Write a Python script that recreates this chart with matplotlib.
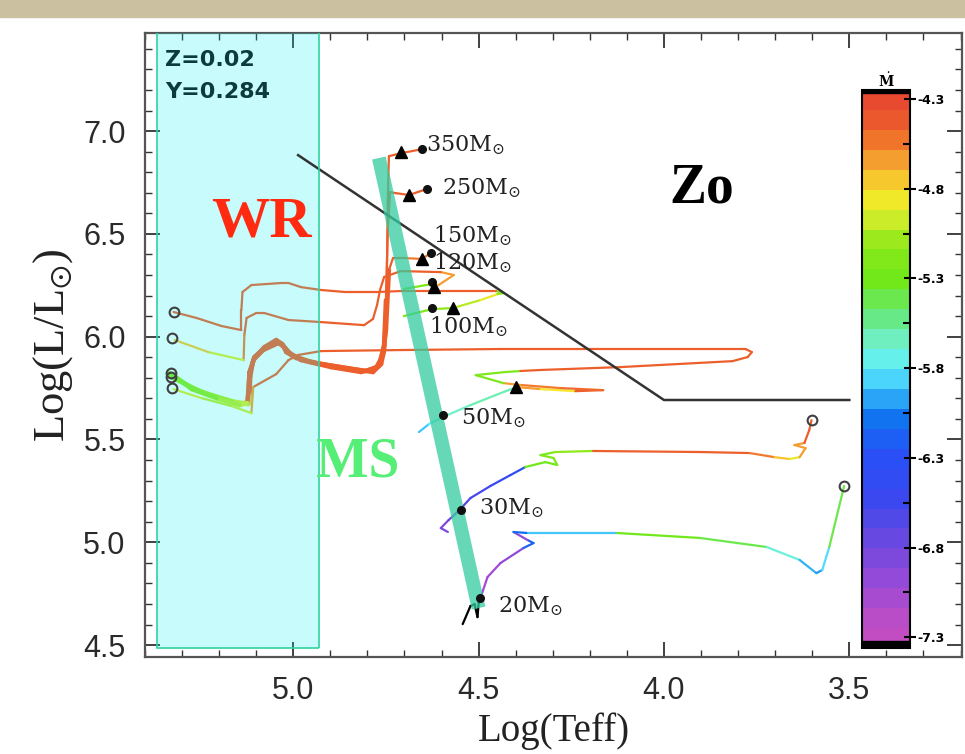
import numpy as np
import matplotlib.pyplot as plt
from matplotlib.collections import LineCollection
from matplotlib.colors import LinearSegmentedColormap, Normalize
from matplotlib.patches import Rectangle
from matplotlib.cm import ScalarMappable

plt.rcParams['mathtext.fontset'] = 'dejavuserif'
plt.rcParams['mathtext.rm'] = 'Liberation Serif'
plt.rcParams['mathtext.fallback'] = 'stix'

# evolutionary tracks: log Teff, log L, log Mdot
t350 = [4.653, 4.707, 4.742, 4.745, 4.747, 4.750, 4.755, 4.763, 4.785, 4.858, 4.925, 4.992, 5.019,
        5.030, 5.046, 5.075, 5.105, 5.118, 5.121, 5.124, 5.145, 5.207, 5.274, 5.320, 5.333]
l350 = [6.912, 6.893, 6.878, 6.664, 6.373, 6.081, 5.935, 5.867, 5.828, 5.847, 5.867, 5.896, 5.925,
        5.964, 5.979, 5.949, 5.901, 5.828, 5.740, 5.682, 5.672, 5.706, 5.750, 5.804, 5.818]
m350 = [-4.4, -4.4, -4.4, -4.4, -4.4, -4.4, -4.4, -4.4, -4.4, -4.4, -4.4, -4.4, -4.4,
        -4.4, -4.4, -4.4, -4.4, -4.4, -4.6, -4.9, -5.0, -5.1, -5.15, -5.2, -5.2]

t250 = [4.640, 4.688, 4.723, 4.739, 4.745, 4.750, 4.755, 4.769, 4.804, 4.871, 4.952, 5.005,
        5.024, 5.040, 5.081, 5.108, 5.116, 5.118, 5.121, 5.167, 5.247, 5.307, 5.330]
l250 = [6.718, 6.689, 6.698, 6.703, 6.519, 6.178, 5.959, 5.857, 5.833, 5.852, 5.876, 5.911,
        5.949, 5.969, 5.935, 5.886, 5.808, 5.716, 5.672, 5.687, 5.731, 5.784, 5.804]
m250 = [-4.4, -4.4, -4.4, -4.4, -4.4, -4.4, -4.4, -4.4, -4.4, -4.4, -4.4, -4.4,
        -4.4, -4.4, -4.4, -4.4, -4.4, -4.7, -4.95, -5.05, -5.1, -5.15, -5.2]

t150 = [4.629, 4.653, 4.696, 4.731, 4.742, 4.750, 4.758, 4.777, 4.817, 4.898, 4.979, 5.013,
        5.030, 5.046, 5.078, 5.105, 5.118, 5.121, 5.124, 5.145, 5.207, 5.274, 5.320, 5.333]
l150 = [6.407, 6.378, 6.382, 6.382, 6.324, 6.032, 5.911, 5.847, 5.828, 5.852, 5.886, 5.925,
        5.964, 5.984, 5.949, 5.896, 5.823, 5.731, 5.677, 5.667, 5.701, 5.745, 5.808, 5.823]
m150 = [-4.5, -4.5, -4.4, -4.4, -4.4, -4.4, -4.4, -4.4, -4.4, -4.4, -4.4, -4.4,
        -4.4, -4.4, -4.4, -4.4, -4.4, -4.4, -4.9, -5.0, -5.1, -5.15, -5.2, -5.2]

t120 = [4.702, 4.626, 4.608, 4.567, 4.602, 4.710, 4.755, 4.766, 4.774, 4.785, 4.809, 4.925,
        5.013, 5.078, 5.100, 5.126, 5.132, 5.134, 5.229, 5.320]
l120 = [6.232, 6.256, 6.251, 6.300, 6.314, 6.319, 6.290, 6.227, 6.154, 6.086, 6.056, 6.071,
        6.081, 6.115, 6.115, 6.091, 6.008, 5.886, 5.925, 5.984]
m120 = [-5.2, -4.9, -4.6, -4.6, -4.4, -4.4, -4.4, -4.4, -4.4, -4.4, -4.4, -4.4,
        -4.4, -4.4, -4.4, -4.4, -4.5, -4.9, -4.7, -4.5]

t100 = [4.702, 4.626, 4.570, 4.495, 4.449, 4.433, 4.454, 4.575, 4.710, 4.777, 4.858, 4.925,
        4.979, 5.013, 5.032, 5.113, 5.137, 5.140, 5.140, 5.194, 5.261, 5.323]
l100 = [6.100, 6.134, 6.139, 6.178, 6.207, 6.212, 6.222, 6.222, 6.222, 6.217, 6.217, 6.227,
        6.241, 6.261, 6.261, 6.251, 6.217, 6.129, 6.032, 6.052, 6.091, 6.120]
m100 = [-5.2, -5.1, -5.0, -4.85, -5.1, -5.2, -4.4, -4.4, -4.4, -4.4, -4.4, -4.4,
        -4.4, -4.4, -4.4, -4.4, -4.4, -4.4, -4.4, -4.4, -4.4, -4.4]

t50 = [4.661, 4.634, 4.597, 4.522, 4.454, 4.398, 4.333, 4.239, 4.164, 4.280, 4.387, 4.433,
       4.508, 4.428, 4.387, 4.333, 4.118, 3.815, 3.774, 3.763, 3.780, 4.038, 4.441, 4.710,
       4.925, 4.987, 5.013, 5.046, 5.108, 5.113, 5.167, 5.247, 5.323]
l50 = [5.536, 5.575, 5.609, 5.667, 5.716, 5.755, 5.745, 5.735, 5.740, 5.750, 5.765, 5.774,
       5.813, 5.828, 5.833, 5.838, 5.852, 5.881, 5.901, 5.925, 5.940, 5.940, 5.940, 5.935,
       5.930, 5.911, 5.886, 5.818, 5.755, 5.628, 5.663, 5.701, 5.745]
m50 = [-5.9, -5.75, -5.65, -5.6, -5.6, -4.6, -4.8, -4.4, -4.45, -4.5, -4.6, -5.2,
       -5.2, -5.2, -4.4, -4.4, -4.4, -4.4, -4.4, -4.4, -4.4, -4.4, -4.4, -4.4,
       -4.4, -4.4, -4.4, -4.4, -4.6, -4.95, -5.0, -4.9, -4.9]

t30 = [4.583, 4.602, 4.581, 4.554, 4.522, 4.468, 4.414, 4.374, 4.320, 4.288, 4.298, 4.333,
       4.293, 4.191, 3.903, 3.769, 3.702, 3.661, 3.634, 3.618, 3.648, 3.621, 3.608, 3.602]
l30 = [5.050, 5.069, 5.108, 5.152, 5.215, 5.274, 5.327, 5.366, 5.390, 5.376, 5.410, 5.424,
       5.439, 5.444, 5.439, 5.434, 5.414, 5.405, 5.414, 5.458, 5.473, 5.483, 5.546, 5.594]
m30 = [-6.9, -6.9, -6.8, -6.7, -6.6, -6.5, -6.4, -5.3, -5.3, -5.2, -5.2, -5.2,
       -5.1, -4.4, -4.4, -4.5, -4.7, -4.85, -4.6, -4.6, -4.6, -4.4, -4.4, -4.4]

t20 = [4.543, 4.522, 4.511, 4.503, 4.500, 4.495, 4.476, 4.441, 4.379, 4.352, 4.368, 4.406,
       4.368, 4.126, 3.903, 3.723, 3.634, 3.589, 3.573, 3.554, 3.514]
l20 = [4.602, 4.690, 4.699, 4.636, 4.704, 4.729, 4.831, 4.899, 4.972, 4.996, 5.011, 5.050,
       5.045, 5.045, 5.021, 4.977, 4.914, 4.850, 4.865, 4.977, 5.274]
m20 = [-7.6, -7.6, -7.6, -7.6, -7.6, -7.1, -7.1, -7.0, -6.2, -6.2, -7.0, -6.1,
       -5.9, -5.3, -5.4, -5.7, -5.95, -6.0, -5.85, -5.4, -5.4]

# markers
zams_t = [4.653, 4.640, 4.629, 4.626, 4.626, 4.597, 4.548, 4.495]
zams_l = [6.912, 6.718, 6.407, 6.266, 6.139, 5.619, 5.157, 4.729]
tri_t = [4.710, 4.688, 4.653, 4.621, 4.570, 4.398]
tri_l = [6.898, 6.689, 6.378, 6.241, 6.139, 5.755]
end_t = [5.323, 5.328, 5.330, 5.330, 5.328, 3.602, 3.514]
end_l = [6.120, 5.993, 5.823, 5.806, 5.750, 5.594, 5.274]

mass_labels = ['350', '250', '150', '120', '100', '50', '30', '20']
label_t = [4.643, 4.600, 4.624, 4.624, 4.634, 4.548, 4.500, 4.449]
label_l = [6.932, 6.723, 6.489, 6.358, 6.047, 5.604, 5.166, 4.690]

line_t = [4.987, 4.0, 3.5]
line_l = [6.883, 5.692, 5.692]
ms_t = [4.769, 4.500]
ms_l = [6.869, 4.680]

cb_ticks = [-7.3, -6.8, -6.3, -5.8, -5.3, -4.8, -4.3]

vmin, vmax = -7.36, -4.25
nodes = [-7.36, -7.3, -7.05, -6.8, -6.55, -6.3, -6.1, -5.95, -5.8, -5.65, -5.5, -5.3, -5.1,
         -4.95, -4.8, -4.6, -4.45, -4.3, -4.25]
node_cols = ['#c24cc2', '#c24cc2', '#9a4ad8', '#6a48e0', '#3a48f0', '#2850f8', '#1070f0',
             '#30b0f8', '#60f0ff', '#70f0c8', '#66e880', '#70e81a', '#8ae81a', '#c8ec28',
             '#f8e82a', '#f5a030', '#ef6a2a', '#e84a30', '#e84a30']
cmap = LinearSegmentedColormap.from_list(
    'mdot', list(zip([(v - vmin) / (vmax - vmin) for v in nodes], node_cols)))
cmap.set_under('black')
cmap.set_over('#e84a30')
norm = Normalize(vmin, vmax)

fig = plt.figure(figsize=(9.65, 7.54), dpi=100)
fig.patches.append(Rectangle((0, 1 - 17 / 754), 1, 17 / 754, transform=fig.transFigure,
                             color='#cbc1a1', zorder=0))
ax = fig.add_axes([145 / 965, 1 - 657 / 754, 817 / 965, 624 / 754])
ax.set_xlim(5.395, 3.196)
ax.set_ylim(4.442, 7.477)


def track(t, l, m, thick=None):
    t, l, m = np.asarray(t), np.asarray(l), np.asarray(m)
    pts = np.column_stack([t, l])
    segs = np.stack([pts[:-1], pts[1:]], axis=1)
    lw = np.full(len(segs), 1.6)
    if thick is not None:
        lw[np.maximum(l[:-1], l[1:]) < thick] = 3.2
    lc = LineCollection(segs, cmap=cmap, norm=norm, linewidths=lw,
                        capstyle='round', joinstyle='round', zorder=3)
    lc.set_array(m[:-1])
    ax.add_collection(lc)


# WR box background
ax.add_patch(Rectangle((4.93, 4.485), 0.438, 3.2, facecolor='#f5fbfb', edgecolor='none', zorder=0.5))

track(t350, l350, m350, thick=6.33)
track(t250, l250, m250, thick=6.33)
track(t150, l150, m150, thick=6.33)
track(t120, l120, m120)
track(t100, l100, m100)
track(t50, l50, m50)
track(t30, l30, m30)
track(t20, l20, m20)

# WR box tint and edge
ax.add_patch(Rectangle((4.93, 4.485), 0.438, 3.2, facecolor='#0affff', alpha=0.19,
                       edgecolor='none', zorder=4))
ax.add_patch(Rectangle((4.93, 4.485), 0.438, 3.2, facecolor='none', edgecolor='#2fd3a0',
                       lw=1.2, zorder=4.1))

ax.plot(line_t, line_l, color='#333333', lw=1.8, zorder=4)
ax.plot(ms_t, ms_l, color='#33cca0', alpha=0.75, lw=10, solid_capstyle='butt', zorder=5)

ax.plot(zams_t, zams_l, 'o', color='#111111', ms=5.5, zorder=6)
ax.plot(tri_t, tri_l, '^', color='black', ms=8, zorder=6)
ax.plot(end_t, end_l, 'o', mfc='none', mec='#404040', mew=1.5, ms=7, zorder=6)

for name, x, y in zip(mass_labels, label_t, label_l):
    ax.text(x, y, r'$\mathrm{%sM}_{\odot}$' % name, fontsize=16, math_fontfamily='dejavuserif',
            color='#222222', va='center', ha='left', zorder=7)

ax.text(5.345, 7.345, 'Z=0.02', family='DejaVu Sans', weight='bold', fontsize=16,
        color='#0d3b3b', va='center', zorder=7)
ax.text(5.345, 7.190, 'Y=0.284', family='DejaVu Sans', weight='bold', fontsize=16,
        color='#0d3b3b', va='center', zorder=7)
ax.text(5.086, 6.557, 'WR', family='Liberation Serif', weight='bold', fontsize=42,
        color='#ff2a10', ha='center', va='center', zorder=7)
ax.text(4.825, 5.390, 'MS', family='Liberation Serif', weight='bold', fontsize=40,
        color='#55ee77', ha='center', va='center', zorder=7)
ax.text(3.898, 6.723, 'Zo', family='Liberation Serif', weight='bold', fontsize=40,
        color='black', ha='center', va='center', zorder=7)

ax.set_xticks([5.0, 4.5, 4.0, 3.5])
ax.set_xticks(np.arange(3.2, 5.41, 0.1), minor=True)
ax.set_yticks([4.5, 5.0, 5.5, 6.0, 6.5, 7.0])
ax.set_yticks(np.arange(4.5, 7.45, 0.1), minor=True)
ax.tick_params(which='both', direction='in', top=True, right=True, color='#333333')
ax.tick_params(which='major', length=11, width=1.3, pad=14)
ax.tick_params(which='minor', length=5, width=1.0)
for lab in ax.get_xticklabels() + ax.get_yticklabels():
    lab.set_family('Liberation Sans')
    lab.set_fontsize(22)
    lab.set_color('#2a2a2a')
for sp in ax.spines.values():
    sp.set_color('#555555')
    sp.set_linewidth(1.6)
ax.set_xlabel('Log(Teff)', family='Liberation Serif', fontsize=28, color='#222222', labelpad=4)
ax.set_ylabel(r'$\mathrm{Log(L/L_{\odot})}$', fontsize=32, color='#222222',
              math_fontfamily='custom', labelpad=6)

# colour bar of mass-loss rate
cax = fig.add_axes([862 / 965, 1 - 648 / 754, 48 / 965, 558 / 754])
cb = fig.colorbar(ScalarMappable(norm=norm, cmap=cmap.resampled(28)), cax=cax)
cb.set_ticks(cb_ticks)
cb.set_ticklabels(['%.1f' % v for v in cb_ticks])
cax.set_yticks([v + 0.25 for v in cb_ticks[:-1]], minor=True)
cax.tick_params(which='major', direction='inout', length=9, width=1.5, labelsize=9, pad=1)
cax.tick_params(which='minor', direction='in', length=5, width=1.5)
for lab in cax.get_yticklabels():
    lab.set_fontweight('bold')
cax.axhspan(vmin, vmin + 0.04, color='black')
cax.axhspan(vmax - 0.015, vmax, color='black')
cb.outline.set_linewidth(1.5)
cax.set_title(r'$\dot{\mathbf{M}}$', fontsize=10, pad=2)

fig.savefig('out.png', dpi=100)
